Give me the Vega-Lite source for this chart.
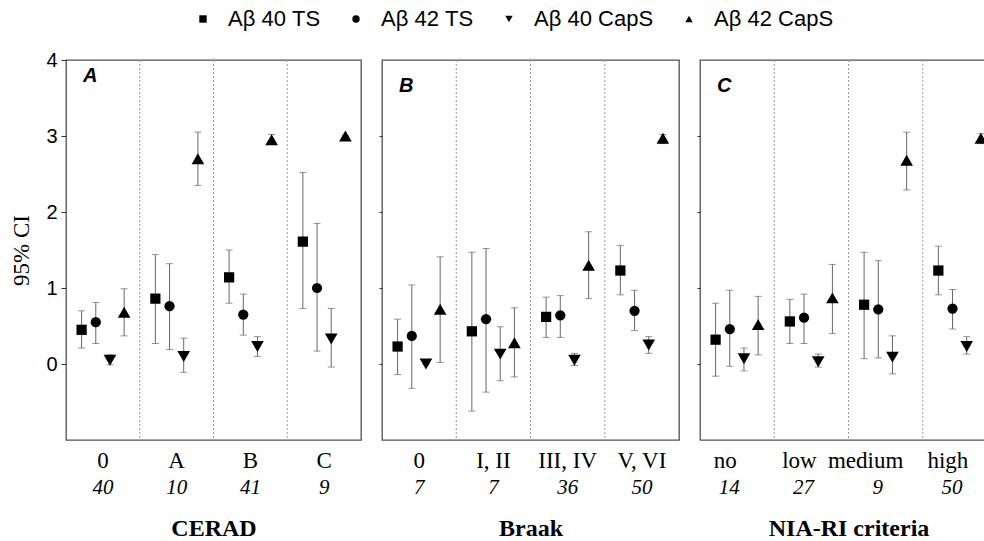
{
  "$schema": "https://vega.github.io/schema/vega-lite/v6.json",
  "padding": {"left": 10, "top": 8, "right": 0, "bottom": 0},
  "background": "white",
  "datasets": {
    "pts": [
      {"p": "CERAD", "cat": "0", "s": "Aβ 40 TS", "m": 0.45, "lo": 0.21, "hi": 0.70},
      {"p": "CERAD", "cat": "0", "s": "Aβ 42 TS", "m": 0.55, "lo": 0.27, "hi": 0.81},
      {"p": "CERAD", "cat": "0", "s": "Aβ 40 CapS", "m": 0.05, "lo": -0.01, "hi": 0.12},
      {"p": "CERAD", "cat": "0", "s": "Aβ 42 CapS", "m": 0.68, "lo": 0.37, "hi": 0.99},
      {"p": "CERAD", "cat": "A", "s": "Aβ 40 TS", "m": 0.86, "lo": 0.27, "hi": 1.44},
      {"p": "CERAD", "cat": "A", "s": "Aβ 42 TS", "m": 0.76, "lo": 0.19, "hi": 1.32},
      {"p": "CERAD", "cat": "A", "s": "Aβ 40 CapS", "m": 0.10, "lo": -0.11, "hi": 0.34},
      {"p": "CERAD", "cat": "A", "s": "Aβ 42 CapS", "m": 2.70, "lo": 2.35, "hi": 3.05},
      {"p": "CERAD", "cat": "B", "s": "Aβ 40 TS", "m": 1.14, "lo": 0.80, "hi": 1.50},
      {"p": "CERAD", "cat": "B", "s": "Aβ 42 TS", "m": 0.65, "lo": 0.38, "hi": 0.92},
      {"p": "CERAD", "cat": "B", "s": "Aβ 40 CapS", "m": 0.23, "lo": 0.10, "hi": 0.36},
      {"p": "CERAD", "cat": "B", "s": "Aβ 42 CapS", "m": 2.95, "lo": 2.89, "hi": 3.02},
      {"p": "CERAD", "cat": "C", "s": "Aβ 40 TS", "m": 1.61, "lo": 0.73, "hi": 2.52},
      {"p": "CERAD", "cat": "C", "s": "Aβ 42 TS", "m": 1.00, "lo": 0.17, "hi": 1.85},
      {"p": "CERAD", "cat": "C", "s": "Aβ 40 CapS", "m": 0.33, "lo": -0.04, "hi": 0.73},
      {"p": "CERAD", "cat": "C", "s": "Aβ 42 CapS", "m": 3.00, "lo": 3.00, "hi": 3.00},
      {"p": "Braak", "cat": "0", "s": "Aβ 40 TS", "m": 0.23, "lo": -0.14, "hi": 0.59},
      {"p": "Braak", "cat": "0", "s": "Aβ 42 TS", "m": 0.37, "lo": -0.32, "hi": 1.04},
      {"p": "Braak", "cat": "0", "s": "Aβ 40 CapS", "m": 0.00, "lo": 0.00, "hi": 0.00},
      {"p": "Braak", "cat": "0", "s": "Aβ 42 CapS", "m": 0.72, "lo": 0.02, "hi": 1.41},
      {"p": "Braak", "cat": "I, II", "s": "Aβ 40 TS", "m": 0.43, "lo": -0.62, "hi": 1.47},
      {"p": "Braak", "cat": "I, II", "s": "Aβ 42 TS", "m": 0.59, "lo": -0.37, "hi": 1.52},
      {"p": "Braak", "cat": "I, II", "s": "Aβ 40 CapS", "m": 0.13, "lo": -0.22, "hi": 0.49},
      {"p": "Braak", "cat": "I, II", "s": "Aβ 42 CapS", "m": 0.28, "lo": -0.17, "hi": 0.74},
      {"p": "Braak", "cat": "III, IV", "s": "Aβ 40 TS", "m": 0.62, "lo": 0.35, "hi": 0.88},
      {"p": "Braak", "cat": "III, IV", "s": "Aβ 42 TS", "m": 0.64, "lo": 0.35, "hi": 0.90},
      {"p": "Braak", "cat": "III, IV", "s": "Aβ 40 CapS", "m": 0.05, "lo": -0.02, "hi": 0.14},
      {"p": "Braak", "cat": "III, IV", "s": "Aβ 42 CapS", "m": 1.30, "lo": 0.86, "hi": 1.74},
      {"p": "Braak", "cat": "V, VI", "s": "Aβ 40 TS", "m": 1.23, "lo": 0.91, "hi": 1.56},
      {"p": "Braak", "cat": "V, VI", "s": "Aβ 42 TS", "m": 0.70, "lo": 0.44, "hi": 0.97},
      {"p": "Braak", "cat": "V, VI", "s": "Aβ 40 CapS", "m": 0.25, "lo": 0.14, "hi": 0.36},
      {"p": "Braak", "cat": "V, VI", "s": "Aβ 42 CapS", "m": 2.97, "lo": 2.90, "hi": 3.02},
      {"p": "NIA", "cat": "no", "s": "Aβ 40 TS", "m": 0.32, "lo": -0.16, "hi": 0.80},
      {"p": "NIA", "cat": "no", "s": "Aβ 42 TS", "m": 0.46, "lo": -0.03, "hi": 0.97},
      {"p": "NIA", "cat": "no", "s": "Aβ 40 CapS", "m": 0.07, "lo": -0.09, "hi": 0.21},
      {"p": "NIA", "cat": "no", "s": "Aβ 42 CapS", "m": 0.52, "lo": 0.12, "hi": 0.89},
      {"p": "NIA", "cat": "low", "s": "Aβ 40 TS", "m": 0.56, "lo": 0.27, "hi": 0.85},
      {"p": "NIA", "cat": "low", "s": "Aβ 42 TS", "m": 0.61, "lo": 0.27, "hi": 0.92},
      {"p": "NIA", "cat": "low", "s": "Aβ 40 CapS", "m": 0.03, "lo": -0.04, "hi": 0.13},
      {"p": "NIA", "cat": "low", "s": "Aβ 42 CapS", "m": 0.87, "lo": 0.40, "hi": 1.31},
      {"p": "NIA", "cat": "medium", "s": "Aβ 40 TS", "m": 0.78, "lo": 0.07, "hi": 1.47},
      {"p": "NIA", "cat": "medium", "s": "Aβ 42 TS", "m": 0.72, "lo": 0.08, "hi": 1.36},
      {"p": "NIA", "cat": "medium", "s": "Aβ 40 CapS", "m": 0.09, "lo": -0.13, "hi": 0.37},
      {"p": "NIA", "cat": "medium", "s": "Aβ 42 CapS", "m": 2.68, "lo": 2.29, "hi": 3.05},
      {"p": "NIA", "cat": "high", "s": "Aβ 40 TS", "m": 1.23, "lo": 0.91, "hi": 1.55},
      {"p": "NIA", "cat": "high", "s": "Aβ 42 TS", "m": 0.73, "lo": 0.46, "hi": 0.98},
      {"p": "NIA", "cat": "high", "s": "Aβ 40 CapS", "m": 0.23, "lo": 0.13, "hi": 0.36},
      {"p": "NIA", "cat": "high", "s": "Aβ 42 CapS", "m": 2.97, "lo": 2.90, "hi": 3.03}
    ],
    "cats": [
      {"p": "CERAD", "cat": "0", "n": "40"},
      {"p": "CERAD", "cat": "A", "n": "10"},
      {"p": "CERAD", "cat": "B", "n": "41"},
      {"p": "CERAD", "cat": "C", "n": "9"},
      {"p": "Braak", "cat": "0", "n": "7"},
      {"p": "Braak", "cat": "I, II", "n": "7"},
      {"p": "Braak", "cat": "III, IV", "n": "36"},
      {"p": "Braak", "cat": "V, VI", "n": "50"},
      {"p": "NIA", "cat": "no", "n": "14"},
      {"p": "NIA", "cat": "low", "n": "27"},
      {"p": "NIA", "cat": "medium", "n": "9"},
      {"p": "NIA", "cat": "high", "n": "50"}
    ]
  },
  "spacing": 15,
  "hconcat": [
    {
      "width": 295,
      "height": 380,
      "title": {"text": "A", "anchor": "start", "frame": "group", "offset": -36, "dx": 17, "font": "Liberation Sans", "fontSize": 20, "fontStyle": "italic", "fontWeight": "bold", "color": "black"},
      "layer": [
        {
          "data": {"name": "cats"},
          "transform": [{"filter": "datum.p === 'CERAD' && datum.cat !== '0'"}],
          "mark": {"type": "rule", "stroke": "#9a9a9a", "strokeWidth": 1, "strokeDash": [2, 2]},
          "encoding": {"x": {"field": "cat", "type": "nominal", "bandPosition": 0, "scale": {"domain": ["0", "A", "B", "C"], "paddingInner": 0, "paddingOuter": 0}, "axis": {"title": "CERAD"}}}
        },
        {
          "data": {"name": "cats"},
          "transform": [{"filter": "datum.p === 'CERAD'"}],
          "mark": {"type": "text", "font": "Liberation Serif", "fontSize": 21, "fontStyle": "italic", "baseline": "middle", "dy": 48, "color": "black"},
          "encoding": {
            "x": {"field": "cat", "type": "nominal", "axis": {"title": "CERAD"}},
            "y": {"datum": -1, "axis": {"title": "95% CI", "values": [0, 1, 2, 3, 4], "tickSize": 5}},
            "text": {"field": "n"}
          }
        },
        {
          "data": {"name": "pts"},
          "transform": [{"filter": "datum.p === 'CERAD'"}],
          "layer": [
            {"mark": {"type": "rule", "stroke": "#666666", "strokeWidth": 1},
             "encoding": {"y": {"field": "lo", "type": "quantitative", "axis": {"title": "95% CI", "values": [0, 1, 2, 3, 4], "tickSize": 5}}, "y2": {"field": "hi"}}},
            {"mark": {"type": "tick", "color": "#666666", "size": 7, "thickness": 1},
             "encoding": {"y": {"field": "lo", "type": "quantitative", "axis": {"title": "95% CI", "values": [0, 1, 2, 3, 4], "tickSize": 5}}}},
            {"mark": {"type": "tick", "color": "#666666", "size": 7, "thickness": 1},
             "encoding": {"y": {"field": "hi", "type": "quantitative", "axis": {"title": "95% CI", "values": [0, 1, 2, 3, 4], "tickSize": 5}}}},
            {"transform": [{"filter": "indexof(datum.s, 'TS') > 0"}],
             "mark": {"type": "point", "filled": true, "color": "black", "opacity": 1, "size": 105},
             "encoding": {
               "y": {"field": "m", "type": "quantitative", "scale": {"domain": [-1, 4], "nice": false, "zero": false},
                     "axis": {"title": "95% CI", "values": [0, 1, 2, 3, 4], "tickSize": 5}},
               "shape": {"field": "s", "type": "nominal",
                         "scale": {"domain": ["Aβ 40 TS", "Aβ 42 TS", "Aβ 40 CapS", "Aβ 42 CapS"], "range": ["square", "circle", "triangle-down", "triangle-up"]},
                         "legend": {"orient": "none", "direction": "horizontal", "legendX": 126, "legendY": -52, "title": null, "labelFont": "Liberation Sans", "labelFontSize": 22, "labelColor": "black", "symbolSize": 55, "symbolFillColor": "black", "symbolStrokeWidth": 0, "labelOffset": 14, "columnPadding": 24}}
             }},
            {"transform": [{"filter": "indexof(datum.s, 'CapS') > 0"}],
             "mark": {"type": "point", "filled": true, "color": "black", "opacity": 1, "size": 160},
             "encoding": {
               "y": {"field": "m", "type": "quantitative", "axis": {"title": "95% CI", "values": [0, 1, 2, 3, 4], "tickSize": 5}},
               "shape": {"field": "s", "type": "nominal"}
             }}
          ],
          "encoding": {
            "x": {"field": "cat", "type": "nominal", "sort": null, "axis": {"title": "CERAD"}},
            "xOffset": {"field": "s", "type": "nominal", "sort": null, "scale": {"domain": ["Aβ 40 TS", "Aβ 42 TS", "Aβ 40 CapS", "Aβ 42 CapS"], "paddingInner": 0, "paddingOuter": 0.6}}
          }
        }
      ]
    },
    {
      "width": 297,
      "height": 380,
      "title": {"text": "B", "anchor": "start", "frame": "group", "offset": -36, "dx": 17, "font": "Liberation Sans", "fontSize": 20, "fontStyle": "italic", "fontWeight": "bold", "color": "black"},
      "layer": [
        {
          "data": {"name": "cats"},
          "transform": [{"filter": "datum.p === 'Braak' && datum.cat !== '0'"}],
          "mark": {"type": "rule", "stroke": "#9a9a9a", "strokeWidth": 1, "strokeDash": [2, 2]},
          "encoding": {"x": {"field": "cat", "type": "nominal", "bandPosition": 0, "scale": {"domain": ["0", "I, II", "III, IV", "V, VI"], "paddingInner": 0, "paddingOuter": 0}, "axis": {"title": "Braak"}}}
        },
        {
          "data": {"name": "cats"},
          "transform": [{"filter": "datum.p === 'Braak'"}],
          "mark": {"type": "text", "font": "Liberation Serif", "fontSize": 21, "fontStyle": "italic", "baseline": "middle", "dy": 48, "color": "black"},
          "encoding": {
            "x": {"field": "cat", "type": "nominal", "axis": {"title": "Braak"}},
            "y": {"datum": -1, "axis": {"title": null, "labels": false, "values": [0, 1, 2, 3], "tickSize": 3}},
            "text": {"field": "n"}
          }
        },
        {
          "data": {"name": "pts"},
          "transform": [{"filter": "datum.p === 'Braak'"}],
          "layer": [
            {"mark": {"type": "rule", "stroke": "#666666", "strokeWidth": 1},
             "encoding": {"y": {"field": "lo", "type": "quantitative", "axis": {"title": null, "labels": false, "values": [0, 1, 2, 3], "tickSize": 3}}, "y2": {"field": "hi"}}},
            {"mark": {"type": "tick", "color": "#666666", "size": 7, "thickness": 1},
             "encoding": {"y": {"field": "lo", "type": "quantitative", "axis": {"title": null, "labels": false, "values": [0, 1, 2, 3], "tickSize": 3}}}},
            {"mark": {"type": "tick", "color": "#666666", "size": 7, "thickness": 1},
             "encoding": {"y": {"field": "hi", "type": "quantitative", "axis": {"title": null, "labels": false, "values": [0, 1, 2, 3], "tickSize": 3}}}},
            {"transform": [{"filter": "indexof(datum.s, 'TS') > 0"}],
             "mark": {"type": "point", "filled": true, "color": "black", "opacity": 1, "size": 105},
             "encoding": {
               "y": {"field": "m", "type": "quantitative", "scale": {"domain": [-1, 4], "nice": false, "zero": false},
                     "axis": {"title": null, "labels": false, "values": [0, 1, 2, 3], "tickSize": 3}},
               "shape": {"field": "s", "type": "nominal"}
             }},
            {"transform": [{"filter": "indexof(datum.s, 'CapS') > 0"}],
             "mark": {"type": "point", "filled": true, "color": "black", "opacity": 1, "size": 160},
             "encoding": {
               "y": {"field": "m", "type": "quantitative", "axis": {"title": null, "labels": false, "values": [0, 1, 2, 3], "tickSize": 3}},
               "shape": {"field": "s", "type": "nominal"}
             }}
          ],
          "encoding": {
            "x": {"field": "cat", "type": "nominal", "sort": null, "axis": {"title": "Braak"}},
            "xOffset": {"field": "s", "type": "nominal", "sort": null, "scale": {"domain": ["Aβ 40 TS", "Aβ 42 TS", "Aβ 40 CapS", "Aβ 42 CapS"], "paddingInner": 0, "paddingOuter": 0.6}}
          }
        }
      ]
    },
    {
      "width": 288,
      "height": 380,
      "title": {"text": "C", "anchor": "start", "frame": "group", "offset": -36, "dx": 17, "font": "Liberation Sans", "fontSize": 20, "fontStyle": "italic", "fontWeight": "bold", "color": "black"},
      "layer": [
        {
          "data": {"name": "cats"},
          "transform": [{"filter": "datum.p === 'NIA' && datum.cat !== 'no'"}],
          "mark": {"type": "rule", "stroke": "#9a9a9a", "strokeWidth": 1, "strokeDash": [2, 2]},
          "encoding": {"x": {"field": "cat", "type": "nominal", "bandPosition": 0, "scale": {"domain": ["no", "low", "medium", "high"], "range": [0, 297], "paddingInner": 0, "paddingOuter": 0}, "axis": {"title": "NIA-RI criteria", "labelOffset": {"condition": {"test": "datum.value === 'medium'", "value": -20}, "value": -12}}}}
        },
        {
          "data": {"name": "cats"},
          "transform": [{"filter": "datum.p === 'NIA'"}],
          "mark": {"type": "text", "font": "Liberation Serif", "fontSize": 21, "fontStyle": "italic", "baseline": "middle", "dy": 48, "dx": -8, "color": "black"},
          "encoding": {
            "x": {"field": "cat", "type": "nominal", "axis": {"title": "NIA-RI criteria", "labelOffset": {"condition": {"test": "datum.value === 'medium'", "value": -20}, "value": -12}}},
            "y": {"datum": -1, "axis": {"title": null, "labels": false, "values": [0, 1, 2, 3], "tickSize": 3}},
            "text": {"field": "n"}
          }
        },
        {
          "data": {"name": "pts"},
          "transform": [{"filter": "datum.p === 'NIA'"}],
          "layer": [
            {"mark": {"type": "rule", "stroke": "#666666", "strokeWidth": 1},
             "encoding": {"y": {"field": "lo", "type": "quantitative", "axis": {"title": null, "labels": false, "values": [0, 1, 2, 3], "tickSize": 3}}, "y2": {"field": "hi"}}},
            {"mark": {"type": "tick", "color": "#666666", "size": 7, "thickness": 1},
             "encoding": {"y": {"field": "lo", "type": "quantitative", "axis": {"title": null, "labels": false, "values": [0, 1, 2, 3], "tickSize": 3}}}},
            {"mark": {"type": "tick", "color": "#666666", "size": 7, "thickness": 1},
             "encoding": {"y": {"field": "hi", "type": "quantitative", "axis": {"title": null, "labels": false, "values": [0, 1, 2, 3], "tickSize": 3}}}},
            {"transform": [{"filter": "indexof(datum.s, 'TS') > 0"}],
             "mark": {"type": "point", "filled": true, "color": "black", "opacity": 1, "size": 105},
             "encoding": {
               "y": {"field": "m", "type": "quantitative", "scale": {"domain": [-1, 4], "nice": false, "zero": false},
                     "axis": {"title": null, "labels": false, "values": [0, 1, 2, 3], "tickSize": 3}},
               "shape": {"field": "s", "type": "nominal"}
             }},
            {"transform": [{"filter": "indexof(datum.s, 'CapS') > 0"}],
             "mark": {"type": "point", "filled": true, "color": "black", "opacity": 1, "size": 160},
             "encoding": {
               "y": {"field": "m", "type": "quantitative", "axis": {"title": null, "labels": false, "values": [0, 1, 2, 3], "tickSize": 3}},
               "shape": {"field": "s", "type": "nominal"}
             }}
          ],
          "encoding": {
            "x": {"field": "cat", "type": "nominal", "sort": null, "axis": {"title": "NIA-RI criteria", "labelOffset": {"condition": {"test": "datum.value === 'medium'", "value": -20}, "value": -12}}},
            "xOffset": {"field": "s", "type": "nominal", "sort": null, "scale": {"domain": ["Aβ 40 TS", "Aβ 42 TS", "Aβ 40 CapS", "Aβ 42 CapS"], "paddingInner": 0, "paddingOuter": 0.6}}
          }
        }
      ]
    }
  ],
  "config": {
    "view": {"stroke": "#505050", "strokeWidth": 1.3},
    "font": "Liberation Sans",
    "axisX": {"labelAngle": 0, "ticks": false, "domain": false, "grid": false, "labelFont": "Liberation Serif", "labelFontSize": 23, "labelColor": "black", "labelPadding": 9, "titleFont": "Liberation Serif", "titleFontSize": 24, "titleFontWeight": "bold", "titleColor": "black", "titlePadding": 44},
    "axisY": {"grid": false, "domain": false, "tickColor": "#333333", "labelFont": "Liberation Sans", "labelFontSize": 20, "labelColor": "black", "labelPadding": 4, "titleFont": "Liberation Serif", "titleFontSize": 23, "titleFontWeight": "normal", "titleColor": "black", "titlePadding": 12}
  }
}
